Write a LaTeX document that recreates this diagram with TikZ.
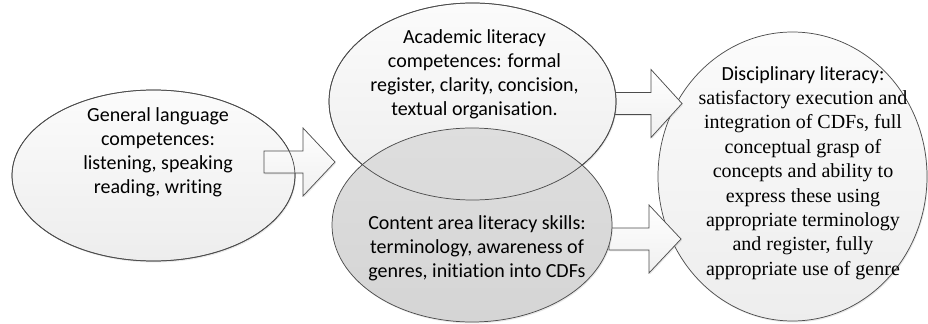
\documentclass[tikz,border=0pt]{standalone}
\usepackage{fontspec}
\setmainfont{Carlito}[Ligatures=NoCommon]
\newfontfamily\timesfont{Liberation Serif}
\usetikzlibrary{shapes.geometric,shadows}
\begin{document}
\begin{tikzpicture}[x=0.75pt,y=-0.75pt,
  softshadow/.style={drop shadow={opacity=0.18, shadow xshift=0.7pt, shadow yshift=-1.1pt}},
  bubble/.style={ellipse, draw=black!70, line width=0.55pt, inner sep=0pt, softshadow},
  lightfill/.style={top color=gray!3, bottom color=gray!14},
  darkfill/.style={top color=gray!26, bottom color=gray!33},
  rim/.style={draw=black!70, line width=0.55pt},
  blockarrow/.style={draw=black!70, line width=0.55pt, top color=white, bottom color=gray!12, line join=miter, softshadow},
  txt/.style={align=center, inner sep=0pt, font=\fontsize{15}{18}\selectfont},
]
\useasboundingbox (0,0) rectangle (928,324);

% right circle
\node[bubble, lightfill, minimum width=201.75pt, minimum height=216.75pt] (disc) at (792.5,176.5) {};

% arrows into right circle
\draw[blockarrow] (612,92.5) -- (651,92.5) -- (651,69.5) -- (682,103.5) -- (651,137.5) -- (651,114.5) -- (612,114.5) -- cycle;
\draw[blockarrow] (609,228) -- (649,228) -- (649,205) -- (681,239) -- (649,273) -- (649,250) -- (609,250) -- cycle;

% left ellipse and its arrow
\node[bubble, lightfill, minimum width=212.25pt, minimum height=128.25pt] (gen) at (153.5,175.5) {};
\draw[blockarrow] (264,151) -- (303,151) -- (303,128) -- (335,162) -- (303,196) -- (303,173) -- (264,173) -- cycle;
\draw[rim] (gen.center) ellipse [x radius=141.5, y radius=85.5];

% middle ellipses
\node[bubble, lightfill, minimum width=215.25pt, minimum height=147.75pt] (acad) at (472.5,101.5) {};
\node[bubble, darkfill, minimum width=210pt, minimum height=145.5pt] (cont) at (472,225) {};
\draw[rim] (acad.center) ellipse [x radius=143.5, y radius=98.5];

% texts
\node[txt] (genT) at (158,152) {General language\\competences:\\listening, speaking\\reading, writing};
\node[txt] (acadT) at (474.5,74) {Academic literacy\\competences: formal\\register, clarity, concision,\\textual organisation.};
\node[txt] (contT) at (477,248) {Content area literacy skills:\\terminology, awareness of\\genres, initiation into CDFs};
\node[txt, font=\fontsize{15}{18.3}\selectfont] (discT) at (803,173) {Disciplinary literacy:\\\timesfont satisfactory execution and\\\timesfont integration of CDFs, full\\\timesfont conceptual grasp of\\\timesfont concepts and ability to\\\timesfont express these using\\\timesfont appropriate terminology\\\timesfont and register, fully\\\timesfont appropriate use of genre};
\end{tikzpicture}
\end{document}
